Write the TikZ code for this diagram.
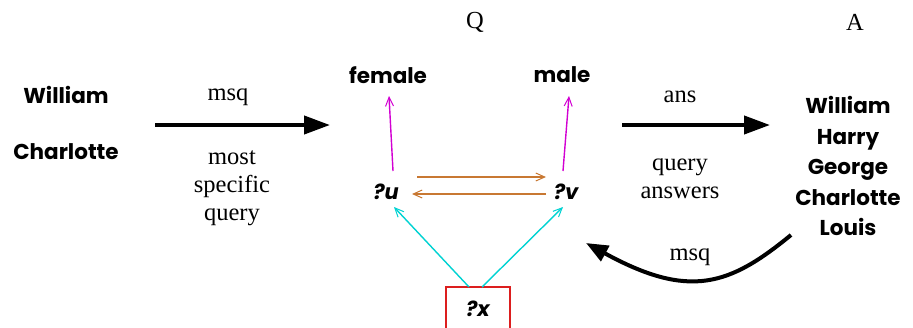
\documentclass[tikz,border=0pt]{standalone}
\usepackage{fontspec}
\setmainfont{Liberation Serif}
\newfontfamily\agfont{Poppins}
\usetikzlibrary{arrows.meta}
\definecolor{brn}{RGB}{200,120,50}
\definecolor{cyn}{RGB}{0,210,210}
\definecolor{mag}{RGB}{210,0,210}
\definecolor{redbox}{RGB}{220,30,30}
\tikzset{
  lbl/.style={font=\fontsize{24.5}{28}\selectfont, align=center, inner sep=0pt},
  namelbl/.style={font=\agfont\bfseries\fontsize{21.5}{30.5}\selectfont, align=center, inner sep=0pt},
  varlbl/.style={font=\agfont\bfseries\itshape\fontsize{21}{23}\selectfont, inner sep=0pt},
  bigarrow/.style={line width=4pt, -{Triangle[length=26pt,width=18pt]}},
  thinarrow/.style={line width=1.4pt, -{Straight Barb[length=9pt,width=8pt,line width=1pt]}},
}
\begin{document}
\begin{tikzpicture}[x=1pt,y=-1pt]
\useasboundingbox (0,0) rectangle (913,327);
\node[lbl] (Q) at (475,22) {Q};
\node[lbl] (A) at (855,22) {A};
\node[namelbl] (w1) at (66,95) {William};
\node[namelbl] (c1) at (66,152) {Charlotte};
\node[lbl] (msq1) at (228,97) {msq};
\node[lbl] (msqtxt) at (232,188) {most\\specific\\query};
\coordinate (a1s) at (155,125);
\coordinate (a1e) at (330,125);
\draw[bigarrow] (a1s) -- (a1e);
\node[namelbl] (female) at (388,75) {female};
\node[namelbl] (male) at (562,75) {male};
\node[varlbl] (u) at (386,192) {?u};
\node[varlbl] (v) at (566,192) {?v};
\node[draw=redbox, line width=1.2pt, minimum width=64pt, minimum height=48pt, inner sep=0pt] (xbox) at (478,311) {};
\node[varlbl] (x) at (478,309) {?x};
\coordinate (uf) at (393,171); \coordinate (fu) at (389,96);
\coordinate (vm) at (563,171); \coordinate (mv) at (569,96);
\draw[thinarrow, mag] (uf) -- (fu);
\draw[thinarrow, mag] (vm) -- (mv);
\coordinate (uv1) at (417,177); \coordinate (uv2) at (546,177);
\coordinate (vu1) at (546,194); \coordinate (vu2) at (412,194);
\draw[thinarrow, brn] (uv1) -- (uv2);
\draw[thinarrow, brn] (vu1) -- (vu2);
\coordinate (xu) at (469,287); \coordinate (ux) at (394,207);
\coordinate (xv) at (482,287); \coordinate (vx) at (563,207);
\draw[thinarrow, cyn] (xu) -- (ux);
\draw[thinarrow, cyn] (xv) -- (vx);
\node[lbl] (ans) at (680,97) {ans};
\coordinate (a2s) at (622,125);
\coordinate (a2e) at (770,125);
\draw[bigarrow] (a2s) -- (a2e);
\node[lbl] (qa) at (680,179) {query\\answers};
\node[namelbl] (names) at (848,166) {William\\Harry\\George\\Charlotte\\Louis};
\node[lbl] (msq2) at (690,257) {msq};
\coordinate (c2s) at (791,235);
\coordinate (c2e) at (586,243);
\draw[line width=4pt, -{Triangle[length=22pt,width=17pt]}] (c2s) .. controls (730,285) and (690,300) .. (c2e);
\end{tikzpicture}
\end{document}
